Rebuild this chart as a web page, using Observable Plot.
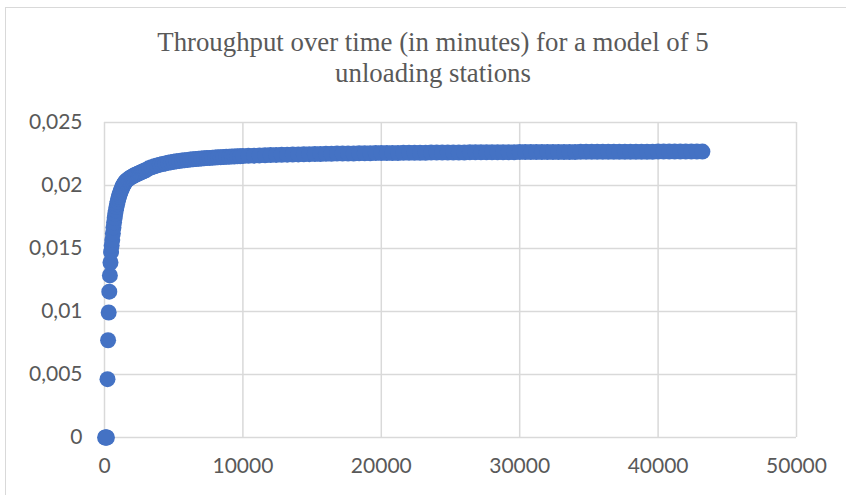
<!DOCTYPE html>
<html>
<head>
<meta charset="utf-8">
<script src="https://cdn.jsdelivr.net/npm/d3@7"></script>
<script src="https://cdn.jsdelivr.net/npm/@observablehq/plot@0.6"></script>
<style>
  html, body { margin: 0; padding: 0; background: #fff; }
  #wrap { position: relative; width: 846px; height: 495px; overflow: hidden; }
  #frame { position: absolute; left: 5px; top: 7px; width: 900px; height: 600px; border-left: 1.5px solid #d9d9d9; border-top: 1.5px solid #d9d9d9; box-sizing: border-box; }
  #title { position: absolute; left: 0; width: 866px; top: 27px; text-align: center; font-family: "Liberation Serif", "Times New Roman", serif; font-size: 26.8px; line-height: 31px; color: #595959; }
  #chart { position: absolute; left: 0; top: 0; }
</style>
</head>
<body>
<div id="wrap">
  <div id="frame"></div>
  <div id="chart"></div>
  <div id="title">Throughput over time (in minutes) for a model of 5<br>unloading stations</div>
</div>
<script>
const titleText = "Throughput over time (in minutes) for a model of 5 unloading stations";
const xTicks = [0, 10000, 20000, 30000, 40000, 50000];
const yTicks = [0, 0.005, 0.01, 0.015, 0.02, 0.025];

// time in minutes
const times = [
  43.2, 86.4, 129.6, 172.8, 216, 259.2, 302.4, 345.6, 388.8, 432,
  475.2, 518.4, 561.6, 604.8, 648, 691.2, 734.4, 777.6, 820.8, 864,
  907.2, 950.4, 993.6, 1036.8, 1080, 1123.2, 1166.4, 1209.6, 1252.8, 1296,
  1339.2, 1382.4, 1425.6, 1468.8, 1512,
  1600, 1700, 1800, 1900, 2000, 2100, 2200, 2300, 2400, 2500, 2600, 2700, 2800, 2900, 3000,
  3200, 3400, 3600, 3800, 4000, 4200, 4400, 4600, 4800, 5000,
  5200, 5400, 5600, 5800, 6000, 6200, 6400, 6600, 6800, 7000,
  7200, 7400, 7600, 7800, 8000, 8200, 8400, 8600, 8800, 9000,
  9200, 9400, 9600, 9800, 10000,
  10400, 10800, 11200, 11600, 12000, 12400, 12800, 13200, 13600, 14000,
  14400, 14800, 15200, 15600, 16000, 16400, 16800, 17200, 17600, 18000,
  18400, 18800, 19200, 19600, 20000, 20400, 20800, 21200, 21600, 22000,
  22400, 22800, 23200, 23600, 24000, 24400, 24800, 25200, 25600, 26000,
  26400, 26800, 27200, 27600, 28000, 28400, 28800, 29200, 29600, 30000,
  30400, 30800, 31200, 31600, 32000, 32400, 32800, 33200, 33600, 34000,
  34400, 34800, 35200, 35600, 36000, 36400, 36800, 37200, 37600, 38000,
  38400, 38800, 39200, 39600, 40000, 40400, 40800, 41200, 41600, 42000,
  42400, 42800, 43200
];

// throughput (parts per minute)
const throughput = [
  0, 0, 0, 0, 0.00463, 0.00772, 0.00992, 0.01157, 0.01286, 0.01389,
  0.01473, 0.01524, 0.01567, 0.01620, 0.01667, 0.01707, 0.01743, 0.01775, 0.01803, 0.01829,
  0.01852, 0.01873, 0.01892, 0.01909, 0.01925, 0.01940, 0.01953, 0.01966, 0.01977, 0.01988,
  0.01998, 0.02007, 0.02015, 0.02023, 0.02031,
  0.02040, 0.02049, 0.02057, 0.02064, 0.02071, 0.02077, 0.02083, 0.02088, 0.02093, 0.02098, 0.02103, 0.02108, 0.02113, 0.02118, 0.02123,
  0.02136, 0.02145, 0.02152, 0.02159, 0.02165, 0.02170, 0.02175, 0.02180, 0.02184, 0.02188,
  0.02192, 0.02195, 0.02198, 0.02201, 0.02203, 0.02206, 0.02208, 0.02210, 0.02212, 0.02214,
  0.02216, 0.02218, 0.02219, 0.02221, 0.02222, 0.02224, 0.02225, 0.02226, 0.02228, 0.02229,
  0.02230, 0.02231, 0.02232, 0.02233, 0.02234,
  0.02236, 0.02237, 0.02239, 0.02240, 0.02242, 0.02243, 0.02244, 0.02245, 0.02246, 0.02247,
  0.02248, 0.02249, 0.02250, 0.02250, 0.02251, 0.02252, 0.02253, 0.02253, 0.02254, 0.02254,
  0.02255, 0.02256, 0.02256, 0.02257, 0.02257, 0.02257, 0.02258, 0.02258, 0.02259, 0.02259,
  0.02259, 0.02260, 0.02260, 0.02261, 0.02261, 0.02261, 0.02261, 0.02262, 0.02262, 0.02262,
  0.02263, 0.02263, 0.02263, 0.02263, 0.02264, 0.02264, 0.02264, 0.02264, 0.02264, 0.02265,
  0.02265, 0.02265, 0.02265, 0.02265, 0.02266, 0.02266, 0.02266, 0.02266, 0.02266, 0.02266,
  0.02267, 0.02267, 0.02267, 0.02267, 0.02267, 0.02267, 0.02267, 0.02268, 0.02268, 0.02268,
  0.02268, 0.02268, 0.02268, 0.02268, 0.02269, 0.02269, 0.02269, 0.02269, 0.02269, 0.02269,
  0.02269, 0.02269, 0.02269
];

const data = times.map((t, i) => ({t, v: throughput[i]}));

const chart = Plot.plot({
  width: 846,
  height: 495,
  marginLeft: 104,
  marginRight: 50,
  marginTop: 122,
  marginBottom: 58,
  style: {fontFamily: "Lato, sans-serif", fontSize: "21px", color: "#595959", background: "transparent"},
  x: {domain: [0, 50000]},
  y: {domain: [0, 0.025]},
  marks: [
    Plot.gridX(xTicks, {stroke: "#d9d9d9", strokeOpacity: 1, strokeWidth: 1.5}),
    Plot.gridY(yTicks, {stroke: "#d9d9d9", strokeOpacity: 1, strokeWidth: 1.5}),
    Plot.axisX(xTicks, {tickSize: 0, tickPadding: 21, tickFormat: d => String(d), label: null}),
    Plot.axisY(yTicks, {tickSize: 0, tickPadding: 22, tickFormat: d => String(d).replace(".", ","), label: null}),
    Plot.dot(data, {x: "t", y: "v", r: 8, fill: "#4472C4", stroke: "none"})
  ]
});
document.getElementById("chart").appendChild(chart);
</script>
</body>
</html>
